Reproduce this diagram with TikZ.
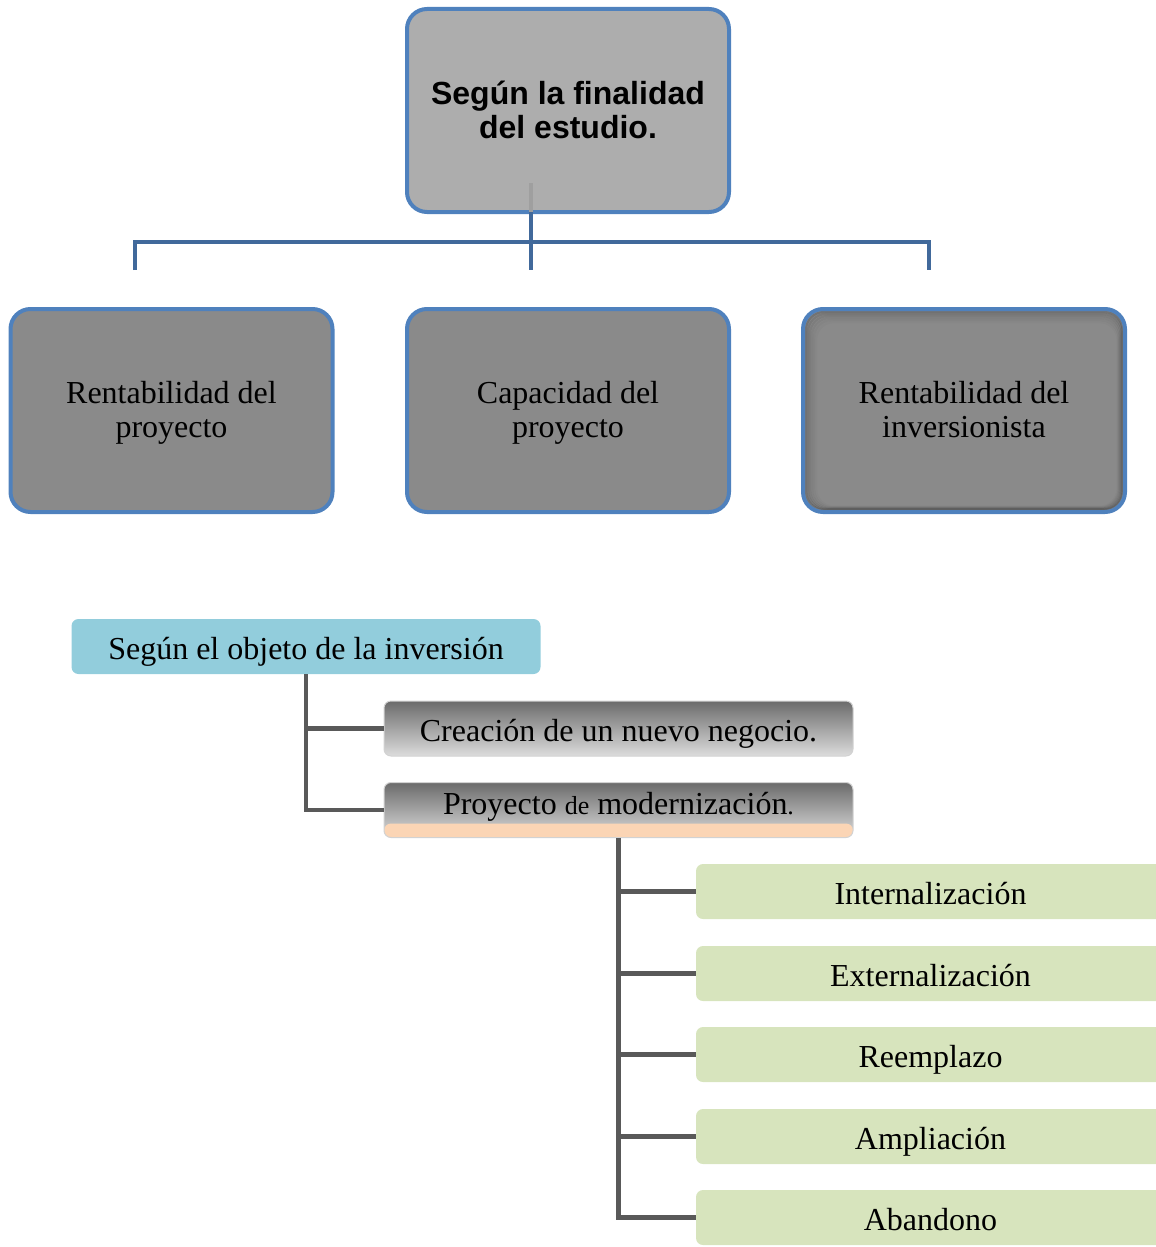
\documentclass[tikz,border=0pt]{standalone}
\usepackage{fontspec}
\setmainfont{Liberation Serif}
\newfontfamily\arialfont{Liberation Sans}
\definecolor{bordblue}{HTML}{4F81BD}
\definecolor{connblue}{HTML}{41699B}
\definecolor{topfill}{HTML}{ADADAD}
\definecolor{childfill}{HTML}{8A8A8A}
\definecolor{cyanfill}{HTML}{92CDDC}
\definecolor{greenfill}{HTML}{D7E4BD}
\definecolor{peach}{HTML}{FBD5B5}
\definecolor{darkconn}{HTML}{595959}
\definecolor{gradtop}{HTML}{6B6B6B}
\definecolor{gradbot}{HTML}{DCDCDC}
\begin{document}
\begin{tikzpicture}[x=1pt,y=-1pt,
  bigbox/.style={draw=bordblue, line width=4pt, rounded corners=20pt, minimum width=322pt, minimum height=203pt, inner sep=0pt},
  topbox/.style={bigbox, fill=topfill},
  childbox/.style={bigbox, fill=childfill},
  titletext/.style={align=center, inner sep=0pt, font=\arialfont\bfseries\fontsize{32}{33}\selectfont},
  childtext/.style={align=center, inner sep=0pt, font=\fontsize{32}{34}\selectfont},
  flatbox/.style={rounded corners=7pt, minimum width=469pt, minimum height=55pt, inner sep=0pt, text height=25pt, text depth=0pt, font=\fontsize{32}{34}\selectfont},
  gradbox/.style={flatbox, draw=gray!35, line width=1pt, top color=gradtop, bottom color=gradbot},
  bluelink/.style={draw=connblue, line width=4.5pt},
  graylink/.style={draw=darkconn, line width=4.5pt}
]
\useasboundingbox (0,0) rectangle (1156,1247);
\clip (0,0) rectangle (1156,1247);

% ---------- top chart ----------
\node[topbox] (top) at (568,110.5) {};
\node[titletext] (topt) at (568,114.9) {\strut Según la finalidad\\\strut del estudio.};

\node[childbox] (c1) at (171.5,410.5) {};
\node[childbox] (c2) at (568,410.5) {};
\node[childbox, draw=none, outer sep=0pt] (c3) at (964,410.5) {};
% inner shadow of third box
\begin{scope}
  \clip[rounded corners=18pt] (805,311) rectangle (1123,510);
  \foreach \i/\o in {1/0.16,3/0.12,5/0.09,7/0.06,9/0.04,11/0.02}{
    \draw[black, opacity=\o, line width=2.2pt, rounded corners=18pt] (805+\i,311+\i) rectangle (1123-0.5*\i,510-0.3*\i);
  }
\end{scope}
\draw[bordblue, line width=4pt, rounded corners=20pt] (c3.north west) rectangle (c3.south east);

\node[childtext] (c1t) at (171.5,413.7) {\strut Rentabilidad del\\\strut proyecto};
\node[childtext] (c2t) at (568,413.7) {\strut Capacidad del\\\strut proyecto};
\node[childtext] (c3t) at (964,413.7) {\strut Rentabilidad del\\\strut inversionista};

\coordinate (ts) at (531,183);
\coordinate (tb) at (531,212);
\coordinate (hub) at (531,242);
\coordinate (hl) at (135,242);
\coordinate (hr) at (929,242);
\coordinate (tl) at (135,270);
\coordinate (tm) at (531,270);
\coordinate (tr) at (929,270);
\draw[draw=gray!75, line width=4pt] (ts) -- (tb);
\draw[bluelink] (tb) -- (tm);
\draw[bluelink] (tl) -- (hl) -- (hr) -- (tr);

% ---------- bottom chart ----------
\node[flatbox, fill=cyanfill] (obj) at (306,646.5) {Según el objeto de la inversión};
\node[gradbox] (crea) at (618.5,728.5) {Creación de un nuevo negocio.};
\node[gradbox, text height=0pt, path picture={\fill[peach] (path picture bounding box.south west) rectangle ([yshift=14pt]path picture bounding box.south east);}] (proy) at (618.5,810) {};
\node[font=\fontsize{32}{34}\selectfont, inner sep=0pt, anchor=base] (proyt) at (618.5,814) {Proyecto {\fontsize{26}{30}\selectfont de} modernización{\fontsize{26}{30}\selectfont .}};

\draw[graylink] (obj.south) |- (crea.west);
\draw[graylink] (obj.south) |- (proy.west);

\foreach \n/\y/\t in {g1/891.5/Internalización, g2/973.5/Externalización, g3/1054.5/Reemplazo, g4/1136.5/Ampliación, g5/1217.5/Abandono}{
  \node[flatbox, fill=greenfill] (\n) at (930.5,\y) {\t};
  \draw[graylink] (proy.south) |- (\n.west);
}
\end{tikzpicture}
\end{document}
